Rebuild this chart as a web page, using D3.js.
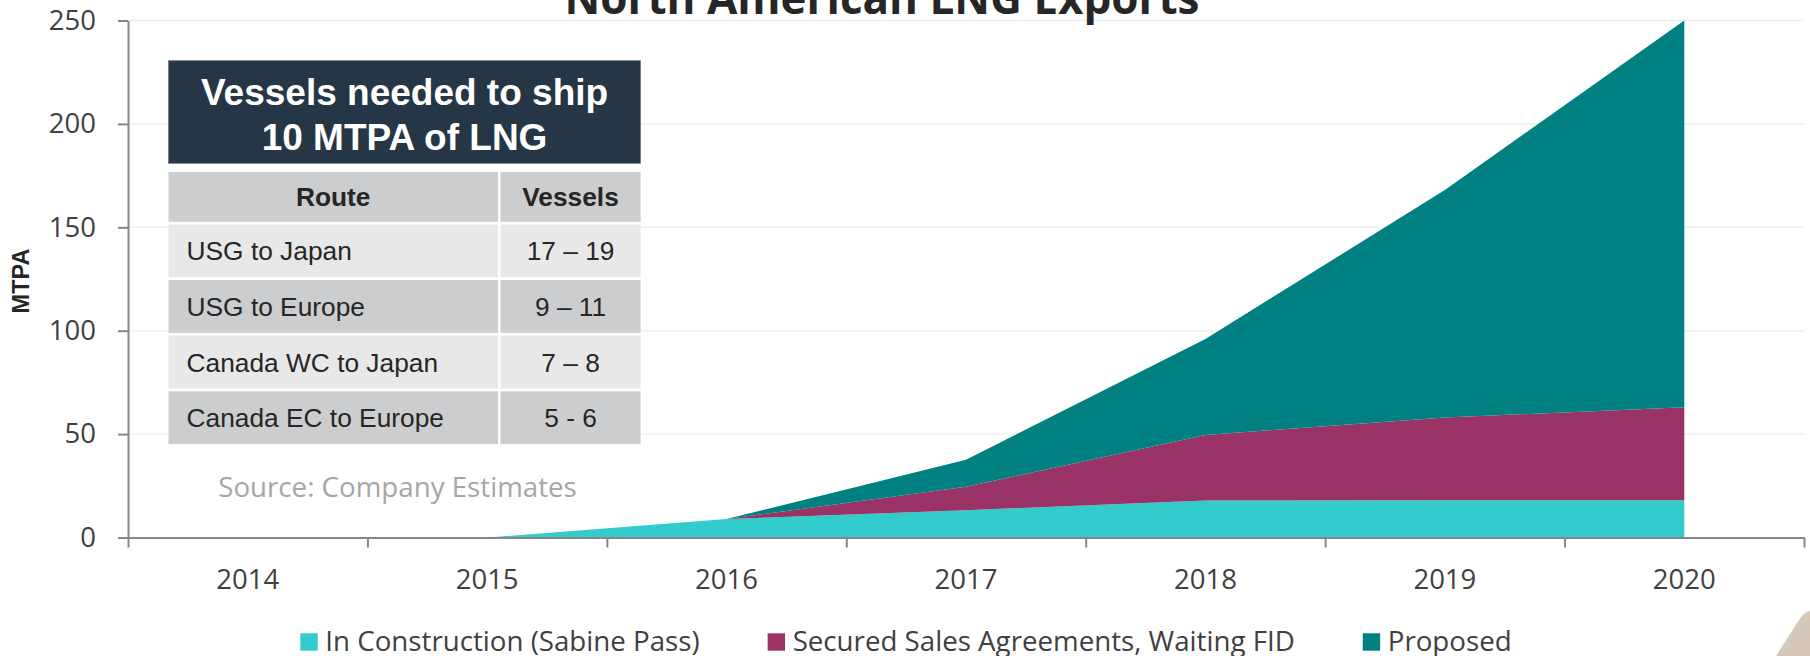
<!DOCTYPE html>
<html>
<head>
<meta charset="utf-8">
<script src="https://cdn.jsdelivr.net/npm/d3@7/dist/d3.min.js"></script>
<style>
  html, body { margin: 0; padding: 0; background: #ffffff; }
  svg { display: block; }
</style>
</head>
<body>
<svg id="chart" width="1810" height="656"></svg>
<script>
// Export capacity by status, MTPA
const years = ["2014", "2015", "2016", "2017", "2018", "2019", "2020"];
const inConstruction = [0, 0, 8.9, 13.2, 17.9, 18, 18];
const securedSales = [0, 0, 0, 11.3, 31.7, 40, 45];
const proposed = [0, 0, 0, 13.1, 46.4, 110, 187];
const yTicks = [0, 50, 100, 150, 200, 250];

const seriesNames = ["In Construction (Sabine Pass)", "Secured Sales Agreements, Waiting FID", "Proposed"];
const seriesColors = ["#33CCCC", "#993366", "#008080"];

// Inset table: vessels needed to ship 10 MTPA
const tableTitle = ["Vessels needed to ship", "10 MTPA of LNG"];
const tableHeader = ["Route", "Vessels"];
const routes = ["USG to Japan", "USG to Europe", "Canada WC to Japan", "Canada EC to Europe"];
const vessels = ["17 \u2013 19", "9 \u2013 11", "7 \u2013 8", "5 - 6"];

const svg = d3.select("#chart");
const plot = { left: 128, right: 1804, top: 20.5, bottom: 537.5 };

const xBand = d3.scaleBand().domain(years).range([plot.left, plot.right]).paddingInner(0).paddingOuter(0);
const xEdge = d3.scaleLinear().domain([0, years.length]).range([plot.left, plot.right]);
const y = d3.scaleLinear().domain([0, 250]).range([plot.bottom, plot.top]);
const xc = yr => xBand(yr) + xBand.bandwidth() / 2;

// gridlines
svg.append("g")
  .selectAll("line")
  .data(yTicks.filter(d => d > 0))
  .join("line")
  .attr("x1", plot.left).attr("x2", plot.right)
  .attr("y1", d => y(d)).attr("y2", d => y(d))
  .attr("stroke", "#F0F0F0").attr("stroke-width", 1.5);

// stacked areas
const rows = years.map((yr, i) => ({
  year: yr,
  construction: inConstruction[i],
  secured: securedSales[i],
  proposed: proposed[i]
}));
const keys = ["construction", "secured", "proposed"];
const stacked = d3.stack().keys(keys)(rows);
const area = d3.area()
  .x(d => xc(d.data.year))
  .y0(d => y(d[0]))
  .y1(d => y(d[1]));

svg.append("g")
  .selectAll("path")
  .data(stacked)
  .join("path")
  .attr("d", area)
  .attr("fill", (d, i) => seriesColors[i]);

// y axis
const yAxis = svg.append("g")
  .attr("transform", `translate(${plot.left},0)`)
  .call(d3.axisLeft(y).tickValues(yTicks).tickSize(10).tickPadding(22).tickSizeOuter(0));
yAxis.select(".domain").attr("stroke", "#868686").attr("stroke-width", 2);
yAxis.selectAll(".tick line").attr("stroke", "#868686").attr("stroke-width", 2);
yAxis.selectAll(".tick text")
  .attr("font-family", "'Open Sans', sans-serif")
  .attr("font-size", 27.5)
  .attr("fill", "#404040");

// x axis: boundary ticks
const xAxisLine = svg.append("g")
  .attr("transform", `translate(0,${plot.bottom})`)
  .call(d3.axisBottom(xEdge).tickValues(d3.range(0, years.length + 1)).tickSize(10).tickFormat("").tickSizeOuter(0));
xAxisLine.select(".domain").attr("stroke", "#868686").attr("stroke-width", 2);
xAxisLine.selectAll(".tick line").attr("stroke", "#868686").attr("stroke-width", 2);

// x axis: year labels
const xLabels = svg.append("g")
  .attr("transform", `translate(0,${plot.bottom})`)
  .call(d3.axisBottom(xBand).tickSize(0).tickPadding(32));
xLabels.select(".domain").remove();
xLabels.selectAll(".tick text")
  .attr("font-family", "'Open Sans', sans-serif")
  .attr("font-size", 27.5)
  .attr("fill", "#404040");

// y axis title
svg.append("text")
  .attr("transform", "translate(29,281) rotate(-90)")
  .attr("text-anchor", "middle")
  .attr("font-family", "'Liberation Sans', Arial, sans-serif")
  .attr("font-weight", "bold")
  .attr("font-size", 23.5)
  .attr("fill", "#262626")
  .text("MTPA");

// chart title (runs off the top edge)
svg.append("text")
  .attr("x", 882).attr("y", 14)
  .attr("text-anchor", "middle")
  .attr("font-family", "'Open Sans', sans-serif")
  .attr("font-weight", "bold")
  .attr("font-size", 44)
  .attr("fill", "#262626")
  .text("North American LNG Exports");

// inset table
const tbl = { left: 168.5, right: 640.6, split: 498, split2: 500.5 };
const table = svg.append("g");
table.append("rect")
  .attr("x", tbl.left).attr("y", 60.5)
  .attr("width", tbl.right - tbl.left).attr("height", 385)
  .attr("fill", "#ffffff");
table.append("rect")
  .attr("x", tbl.left).attr("y", 60.7)
  .attr("width", tbl.right - tbl.left).attr("height", 102.6)
  .attr("fill", "#253646")
  .attr("stroke", "#6F7A84").attr("stroke-width", 0.8);
table.selectAll("text.ttl")
  .data(tableTitle)
  .join("text")
  .attr("class", "ttl")
  .attr("x", (tbl.left + tbl.right) / 2)
  .attr("y", (d, i) => 105 + i * 45)
  .attr("text-anchor", "middle")
  .attr("font-family", "'Liberation Sans', Arial, sans-serif")
  .attr("font-weight", "bold")
  .attr("font-size", 37)
  .attr("fill", "#ffffff")
  .text(d => d);

const rowTops = [172].concat(routes.map((r, i) => 224.5 + i * 55.6));
const rowHeights = [49.8].concat(routes.map(() => 52.8));
const rowFills = ["#CCCDCF", "#E8E8E9", "#CCCDCF", "#E8E8E9", "#CCCDCF"];
const cells = [tableHeader].concat(routes.map((r, i) => [r, vessels[i]]));

cells.forEach((cell, ri) => {
  const top = rowTops[ri], h = rowHeights[ri];
  table.append("rect")
    .attr("x", tbl.left).attr("y", top)
    .attr("width", tbl.split - tbl.left).attr("height", h)
    .attr("fill", rowFills[ri]);
  table.append("rect")
    .attr("x", tbl.split2).attr("y", top)
    .attr("width", tbl.right - tbl.split2).attr("height", h)
    .attr("fill", rowFills[ri]);
  const isHead = ri === 0;
  table.append("text")
    .attr("x", isHead ? (tbl.left + tbl.split) / 2 : 186.6)
    .attr("y", top + h / 2 + 9.5)
    .attr("text-anchor", isHead ? "middle" : "start")
    .attr("font-family", "'Liberation Sans', Arial, sans-serif")
    .attr("font-weight", isHead ? "bold" : "normal")
    .attr("font-size", 26.3)
    .attr("fill", "#262626")
    .text(cell[0]);
  table.append("text")
    .attr("x", (tbl.split2 + tbl.right) / 2)
    .attr("y", top + h / 2 + 9.5)
    .attr("text-anchor", "middle")
    .attr("font-family", "'Liberation Sans', Arial, sans-serif")
    .attr("font-weight", isHead ? "bold" : "normal")
    .attr("font-size", 26.3)
    .attr("fill", "#262626")
    .text(cell[1]);
});

// source note
svg.append("text")
  .attr("x", 397.5).attr("y", 496.5)
  .attr("text-anchor", "middle")
  .attr("font-family", "'Open Sans', sans-serif")
  .attr("font-size", 27.7)
  .attr("fill", "#A6A6A6")
  .text("Source: Company Estimates");

// legend
const legend = svg.append("g");
const items = legend.selectAll("g")
  .data(seriesNames)
  .join("g");
items.append("rect")
  .attr("width", 17.4).attr("height", 17.4)
  .attr("y", 633.3)
  .attr("fill", (d, i) => seriesColors[i]);
items.append("text")
  .attr("x", 25)
  .attr("y", 651)
  .attr("font-family", "'Open Sans', sans-serif")
  .attr("font-size", 27.7)
  .attr("fill", "#404040")
  .text(d => d);
const widths = [];
items.each(function () { widths.push(25 + this.querySelector("text").getComputedTextLength()); });
const gap = 68;
const total = d3.sum(widths) + gap * (widths.length - 1);
let cx = 906 - total / 2;
items.each(function (d, i) {
  d3.select(this).attr("transform", `translate(${cx},0)`);
  cx += widths[i] + gap;
});

// corner accent
svg.append("path")
  .attr("d", "M1776,656 L1799,620 Q1804,612 1810,611 L1810,656 Z")
  .attr("fill", "#D6C9BA");
</script>
</body>
</html>
